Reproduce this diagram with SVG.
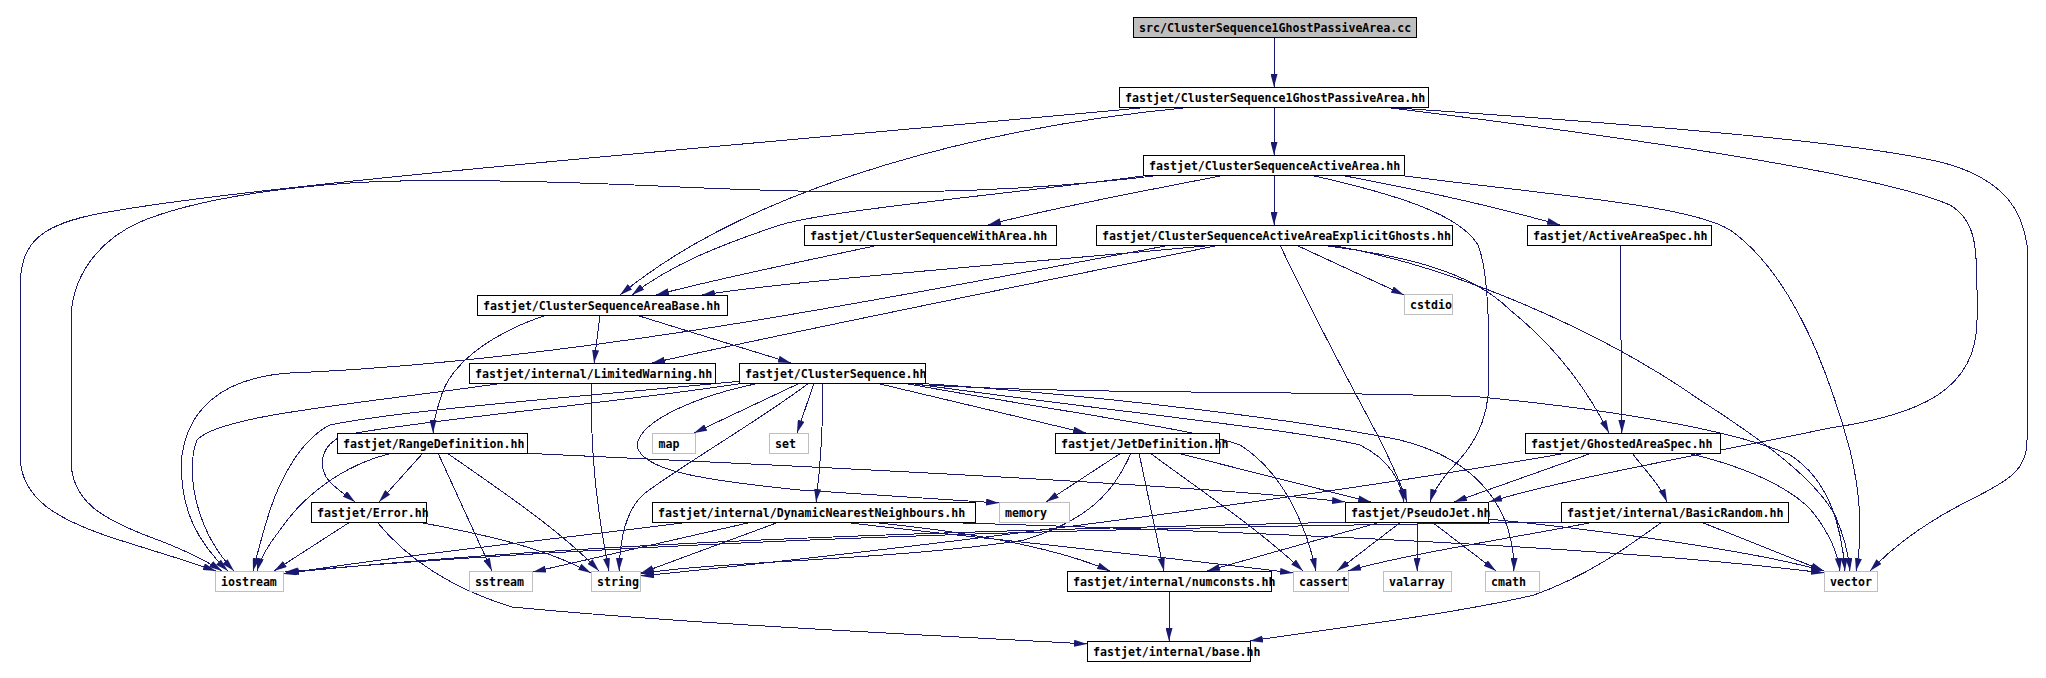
<svg xmlns="http://www.w3.org/2000/svg" width="2046" height="678" viewBox="0 0 2046 678">
<style>
.e{fill:none;stroke:#191970;stroke-width:1;marker-end:url(#a);shape-rendering:crispEdges}
.n rect{fill:#ffffff;stroke:#000000;stroke-width:1}
.s rect{fill:#ffffff;stroke:#bfbfbf;stroke-width:1}
.r rect{fill:#bfbfbf;stroke:#000000;stroke-width:1}
text{font-family:"DejaVu Sans Mono","Liberation Mono",monospace;font-size:11.6px;font-weight:bold;fill:#000000}
</style>
<defs>
<marker id="a" viewBox="0 0 13 7" refX="13" refY="3.5" markerWidth="13" markerHeight="7" markerUnits="userSpaceOnUse" orient="auto">
<path d="M0,0 L13,3.5 L0,7 z" fill="#191970"/>
</marker>
</defs>
<rect width="2046" height="678" fill="#ffffff"/>
<g id="edges">
<path class="e" d="M1274,37 L1274,87"/>
<path class="e" d="M1274,107 L1274,155"/>
<path class="e" d="M1193,107 C1000,125 760,180 620,295"/>
<path class="e" d="M1151,107 C800,140 300,180 120,210 C40,222 20,240 20,290 L20,455 C20,500 60,520 110,537 C150,550 185,560 216,571"/>
<path class="e" d="M1391,108 C1650,140 1880,175 1950,205 C1975,220 1977,245 1977,290 L1977,320 C1977,390 1920,415 1830,428 C1700,455 1560,480 1489,502"/>
<path class="e" d="M1382,107 C1650,125 1900,145 1960,168 C2005,185 2022,210 2027,245 L2027,440 C2027,470 2010,480 1970,500 C1920,525 1890,550 1870,571"/>
<path class="e" d="M1274,175 L1274,225"/>
<path class="e" d="M1225,175 C1150,190 1050,208 988,225"/>
<path class="e" d="M1143,176 C1000,195 830,210 780,225 C720,245 670,265 632,295"/>
<path class="e" d="M1162,175 C1000,195 860,195 680,187 C550,181 430,178 350,183 C250,190 180,205 140,222 C95,242 71,280 71,320 L71,460 C71,500 100,518 150,537 C180,548 205,560 222,571"/>
<path class="e" d="M1340,175 C1420,190 1500,208 1560,225"/>
<path class="e" d="M1310,175 C1400,195 1460,215 1478,245 C1488,270 1489,320 1489,380 C1489,425 1470,450 1450,470 C1440,482 1433,492 1430,502"/>
<path class="e" d="M1397,175 C1550,195 1690,205 1730,230 C1780,265 1820,340 1850,450 C1862,500 1862,540 1856,571"/>
<path class="e" d="M879,245 C800,262 720,278 656,295"/>
<path class="e" d="M1216,245 C1000,265 800,280 702,295"/>
<path class="e" d="M1220,245 C1000,290 800,330 652,363"/>
<path class="e" d="M1171,245 C950,285 600,360 290,373 C215,378 188,415 182,455 C178,510 200,545 228,571"/>
<path class="e" d="M1296,245 L1404,295"/>
<path class="e" d="M1320,245 C1400,255 1470,270 1510,310 C1560,350 1590,395 1609,433"/>
<path class="e" d="M1280,245 C1320,330 1370,420 1380,440 C1395,470 1403,490 1407,502"/>
<path class="e" d="M1330,245 C1450,265 1600,330 1700,400 C1770,445 1815,480 1835,515 C1846,540 1849,560 1850,571"/>
<path class="e" d="M1620,245 L1622,433"/>
<path class="e" d="M600,315 L594,363"/>
<path class="e" d="M636,315 L791,363"/>
<path class="e" d="M547,315 C500,330 450,360 440,400 C435,415 433,425 433,433"/>
<path class="e" d="M591,383 C591,450 595,500 609,571"/>
<path class="e" d="M504,383 C350,405 220,415 197,440 C185,470 195,530 234,571"/>
<path class="e" d="M800,383 L694,433"/>
<path class="e" d="M814,383 L797,433"/>
<path class="e" d="M823,383 C823,430 820,470 816,502"/>
<path class="e" d="M876,383 L1086,433"/>
<path class="e" d="M809,383 C760,420 690,460 645,493 C625,510 620,540 619,571"/>
<path class="e" d="M760,383 C700,395 640,420 637,445 C640,470 700,480 800,490 C900,497 960,500 999,503"/>
<path class="e" d="M745,383 C600,405 420,420 345,435 C318,445 318,470 330,482 C340,492 350,498 355,502"/>
<path class="e" d="M742,381 C600,395 400,410 330,425 C300,440 280,480 270,510 C262,535 257,555 253,571"/>
<path class="e" d="M908,383 C1100,410 1300,430 1360,445 C1390,460 1400,480 1404,502"/>
<path class="e" d="M903,383 C1050,410 1200,430 1240,445 C1280,470 1305,520 1316,571"/>
<path class="e" d="M915,383 C1100,395 1300,420 1400,440 C1480,460 1514,510 1514,571"/>
<path class="e" d="M925,385 C1100,395 1300,390 1480,397 C1614,410 1734,430 1790,455 C1830,480 1842,530 1845,571"/>
<path class="e" d="M423,453 L379,502"/>
<path class="e" d="M393,453 C340,465 300,500 280,530 C268,545 260,560 257,571"/>
<path class="e" d="M438,453 L492,571"/>
<path class="e" d="M447,453 C500,490 560,530 599,571"/>
<path class="e" d="M520,453 C800,466 1200,485 1345,502"/>
<path class="e" d="M1121,453 L1046,502"/>
<path class="e" d="M1131,453 C1115,490 1090,520 1024,540 C900,560 700,562 641,574"/>
<path class="e" d="M1139,453 L1164,571"/>
<path class="e" d="M1150,453 C1200,490 1260,530 1303,571"/>
<path class="e" d="M1177,453 L1371,502"/>
<path class="e" d="M1592,453 L1454,502"/>
<path class="e" d="M1632,453 C1645,470 1660,485 1667,502"/>
<path class="e" d="M1687,453 C1760,470 1800,495 1815,515 C1830,535 1838,555 1840,571"/>
<path class="e" d="M1567,453 C1300,500 900,550 641,576"/>
<path class="e" d="M1701,522 L1824,571"/>
<path class="e" d="M1662,522 C1630,545 1590,575 1534,595 C1450,615 1320,630 1250,641"/>
<path class="e" d="M1594,522 C1530,535 1400,555 1348,571"/>
<path class="e" d="M1575,522 C1200,526 700,536 285,572"/>
<path class="e" d="M1417,522 L1417,571"/>
<path class="e" d="M1432,522 L1496,571"/>
<path class="e" d="M1401,522 L1337,571"/>
<path class="e" d="M1381,522 L1207,571"/>
<path class="e" d="M1488,519 C1600,530 1750,550 1824,571"/>
<path class="e" d="M1352,522 C1000,530 600,540 286,573"/>
<path class="e" d="M690,522 C550,540 400,555 284,574"/>
<path class="e" d="M752,522 L533,572"/>
<path class="e" d="M779,522 L641,573"/>
<path class="e" d="M869,522 C950,530 1050,545 1110,571"/>
<path class="e" d="M842,522 C950,535 1150,555 1293,573"/>
<path class="e" d="M929,522 C1200,530 1600,545 1824,573"/>
<path class="e" d="M350,522 L274,571"/>
<path class="e" d="M418,522 C470,532 540,545 591,573"/>
<path class="e" d="M377,522 C400,550 440,585 512,607 C700,625 950,636 1087,644"/>
<path class="e" d="M1169,591 L1169,641"/>
</g>
<g id="n_src" class="r"><rect x="1133.5" y="17.5" width="283" height="20"/><text x="1139" y="31.5">src/ClusterSequence1GhostPassiveArea.cc</text></g>
<g id="n_cs1gpa" class="n"><rect x="1119.5" y="87.5" width="309" height="20"/><text x="1125" y="101.5">fastjet/ClusterSequence1GhostPassiveArea.hh</text></g>
<g id="n_csactivearea" class="n"><rect x="1143.5" y="155.5" width="261" height="20"/><text x="1149" y="169.5">fastjet/ClusterSequenceActiveArea.hh</text></g>
<g id="n_cswitharea" class="n"><rect x="804.5" y="225.5" width="252" height="20"/><text x="810" y="239.5">fastjet/ClusterSequenceWithArea.hh</text></g>
<g id="n_explicitghosts" class="n"><rect x="1096.5" y="225.5" width="356" height="20"/><text x="1102" y="239.5">fastjet/ClusterSequenceActiveAreaExplicitGhosts.hh</text></g>
<g id="n_activeareaspec" class="n"><rect x="1527.5" y="225.5" width="184" height="20"/><text x="1533" y="239.5">fastjet/ActiveAreaSpec.hh</text></g>
<g id="n_csareabase" class="n"><rect x="477.5" y="295.5" width="250" height="20"/><text x="483" y="309.5">fastjet/ClusterSequenceAreaBase.hh</text></g>
<g id="n_cstdio" class="s"><rect x="1404.5" y="294.5" width="48" height="20"/><text x="1410" y="308.5">cstdio</text></g>
<g id="n_limitedwarning" class="n"><rect x="469.5" y="363.5" width="246" height="20"/><text x="475" y="377.5">fastjet/internal/LimitedWarning.hh</text></g>
<g id="n_clustersequence" class="n"><rect x="739.5" y="363.5" width="186" height="20"/><text x="745" y="377.5">fastjet/ClusterSequence.hh</text></g>
<g id="n_rangedefinition" class="n"><rect x="337.5" y="433.5" width="190" height="20"/><text x="343" y="447.5">fastjet/RangeDefinition.hh</text></g>
<g id="n_map" class="s"><rect x="652.5" y="433.5" width="43" height="20"/><text x="658.5" y="447.5">map</text></g>
<g id="n_set" class="s"><rect x="769.5" y="433.5" width="39" height="20"/><text x="775" y="447.5">set</text></g>
<g id="n_jetdefinition" class="n"><rect x="1055.5" y="433.5" width="164" height="20"/><text x="1061" y="447.5">fastjet/JetDefinition.hh</text></g>
<g id="n_ghostedareaspec" class="n"><rect x="1525.5" y="433.5" width="195" height="20"/><text x="1531" y="447.5">fastjet/GhostedAreaSpec.hh</text></g>
<g id="n_error" class="n"><rect x="311.5" y="502.5" width="115" height="20"/><text x="317" y="516.5">fastjet/Error.hh</text></g>
<g id="n_dnn" class="n"><rect x="652.5" y="502.5" width="323" height="20"/><text x="658" y="516.5">fastjet/internal/DynamicNearestNeighbours.hh</text></g>
<g id="n_memory" class="s"><rect x="999.5" y="502.5" width="70" height="20"/><text x="1005" y="516.5">memory</text></g>
<g id="n_pseudojet" class="n"><rect x="1345.5" y="502.5" width="143" height="20"/><text x="1351" y="516.5">fastjet/PseudoJet.hh</text></g>
<g id="n_basicrandom" class="n"><rect x="1561.5" y="502.5" width="227" height="20"/><text x="1567" y="516.5">fastjet/internal/BasicRandom.hh</text></g>
<g id="n_iostream" class="s"><rect x="215.5" y="571.5" width="68" height="20"/><text x="221" y="585.5">iostream</text></g>
<g id="n_sstream" class="s"><rect x="469.5" y="571.5" width="63" height="20"/><text x="475" y="585.5">sstream</text></g>
<g id="n_string" class="s"><rect x="591.5" y="571.5" width="49" height="20"/><text x="597" y="585.5">string</text></g>
<g id="n_numconsts" class="n"><rect x="1067.5" y="571.5" width="204" height="20"/><text x="1073" y="585.5">fastjet/internal/numconsts.hh</text></g>
<g id="n_cassert" class="s"><rect x="1293.5" y="571.5" width="55" height="20"/><text x="1299" y="585.5">cassert</text></g>
<g id="n_valarray" class="s"><rect x="1383.5" y="571.5" width="68" height="20"/><text x="1389" y="585.5">valarray</text></g>
<g id="n_cmath" class="s"><rect x="1485.5" y="571.5" width="54" height="20"/><text x="1491" y="585.5">cmath</text></g>
<g id="n_vector" class="s"><rect x="1824.5" y="571.5" width="53" height="20"/><text x="1830" y="585.5">vector</text></g>
<g id="n_base" class="n"><rect x="1087.5" y="641.5" width="163" height="20"/><text x="1093" y="655.5">fastjet/internal/base.hh</text></g>
</svg>
